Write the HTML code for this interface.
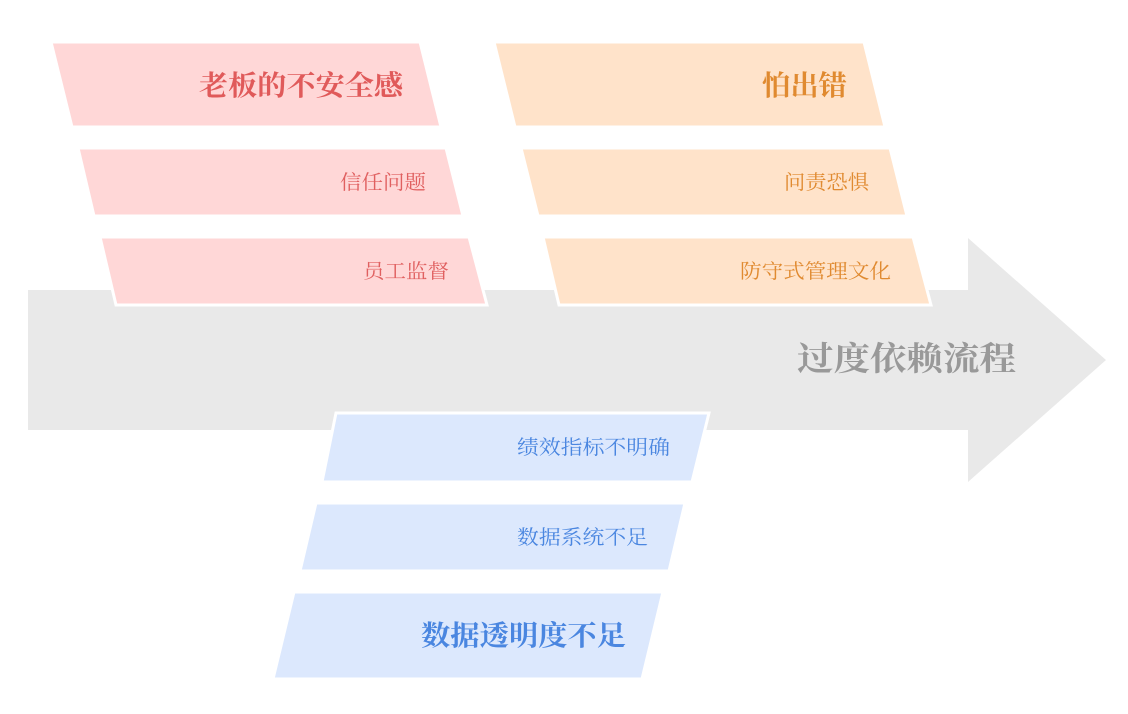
<!DOCTYPE html>
<html><head><meta charset="utf-8"><style>
html,body{margin:0;padding:0;background:#fff;}
svg{display:block;}
text{font-family:"Liberation Serif","Noto Serif CJK SC",serif;}
</style></head><body>
<svg width="1128" height="714" viewBox="0 0 1128 714" xmlns="http://www.w3.org/2000/svg">
<polygon points="28,290 968,290 968,238 1106,360 968,482 968,430 28,430" fill="#e9e9e9"/>
<text x="797" y="370" font-size="33" font-weight="bold" fill="#999" textLength="219" lengthAdjust="spacingAndGlyphs">过度依赖流程</text>

<g stroke="#fff" stroke-width="3">
<polygon points="51,42 420,42 441,127 72,127" fill="#ffd7d7"/>
<polygon points="78,148 446,148 463,216 94,216" fill="#ffd7d7"/>
<polygon points="100,237 469,237 487,305 116,305" fill="#ffd7d7"/>
<polygon points="494,42 864,42 885,127 515,127" fill="#ffe3ca"/>
<polygon points="521,148 890,148 907,216 538,216" fill="#ffe3ca"/>
<polygon points="543,237 913,237 931,305 559,305" fill="#ffe3ca"/>
<polygon points="336,413 709,413 692,482 322,482" fill="#dce8fd"/>
<polygon points="316,503 685,503 669,571 300,571" fill="#dce8fd"/>
<polygon points="294,592 663,592 642,679 273,679" fill="#dce8fd"/>
</g>

<text x="199" y="95" font-size="28" font-weight="bold" fill="#e05a5a" textLength="204" lengthAdjust="spacingAndGlyphs">老板的不安全感</text>
<text x="340" y="189" font-size="20" fill="#e06060" textLength="86" lengthAdjust="spacingAndGlyphs">信任问题</text>
<text x="363" y="278" font-size="20" fill="#e06060" textLength="86" lengthAdjust="spacingAndGlyphs">员工监督</text>

<text x="762" y="95" font-size="28" font-weight="bold" fill="#e08a30" textLength="85" lengthAdjust="spacingAndGlyphs">怕出错</text>
<text x="784" y="189" font-size="20" fill="#e08a30" textLength="85" lengthAdjust="spacingAndGlyphs">问责恐惧</text>
<text x="740" y="278" font-size="20" fill="#e08a30" textLength="151" lengthAdjust="spacingAndGlyphs">防守式管理文化</text>

<text x="517" y="454" font-size="20" fill="#4a86e0" textLength="153" lengthAdjust="spacingAndGlyphs">绩效指标不明确</text>
<text x="517" y="544" font-size="20" fill="#4a86e0" textLength="131" lengthAdjust="spacingAndGlyphs">数据系统不足</text>
<text x="421" y="645" font-size="28" font-weight="bold" fill="#4a86e0" textLength="205" lengthAdjust="spacingAndGlyphs">数据透明度不足</text>
</svg>
</body></html>
